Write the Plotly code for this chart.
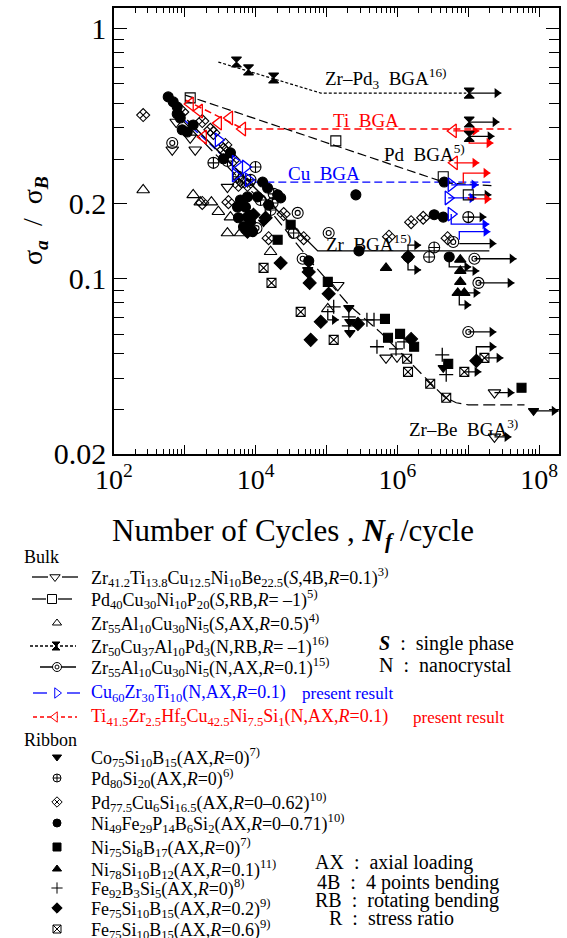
import numpy as np
import plotly.graph_objects as go

FONT = "Liberation Serif"

# ---------------- data (N = cycles, s = sigma_a / sigma_B) ----------------
# Bulk
zrbe_N = [755, 1190, 664, 1400, 3990, 144000, 690000, 986000, 2.34e7, 2.34e7]
zrbe_s = [0.422, 0.365, 0.327, 0.327, 0.232, 0.094, 0.0482, 0.0487, 0.035, 0.0233]
zrbe_line_N = [861, 14700, 65900, 206000, 586000, 2.71e6, 4.57e6, 6.76e6, 1.0e7, 6.21e7]
zrbe_line_s = [0.438, 0.192, 0.1134, 0.0785, 0.0607, 0.0394, 0.0337, 0.0319, 0.0313, 0.0313]

pd40_N = [1190, 135000, 4.43e6, 1.0e7]
pd40_s = [0.527, 0.355, 0.255, 0.216]
pd40_line_N = [1010, 4.88e6, 2.12e7]
pd40_line_s = [0.541, 0.241, 0.235]

zr55s_N = [258, 1310, 1650, 2370, 2970, 4400, 3990, 6090, 16200, 104000]
zr55s_s = [0.226, 0.216, 0.202, 0.202, 0.185, 0.176, 0.152, 0.152, 0.128, 0.0757]

zrpd_N = [5350, 7910, 17900, 1.03e7, 1.03e7, 1.03e7]
zrpd_s = [0.733, 0.682, 0.633, 0.551, 0.422, 0.370]
zrpd_line_N = [2970, 82800, 9.37e6]
zrpd_line_s = [0.733, 0.551, 0.551]

zr55n_N = [664, 10250, 39100, 107000, 46000, 6.13e6, 1.22e7, 1.39e7, 1.0e7]
zr55n_s = [0.348, 0.159, 0.183, 0.152, 0.120, 0.140, 0.120, 0.0961, 0.0612]
zr55n_line_N = [1080, 75000, 1.98e7]
zr55n_line_s = [0.430, 0.129, 0.129]

cu_N = [2970, 5180, 7170, 5180, 7910, 5.74e6, 5.21e6, 5.74e6]
cu_s = [0.358, 0.292, 0.279, 0.259, 0.248, 0.237, 0.210, 0.181]
cu_line_N = [948, 8440, 2.12e7]
cu_line_s = [0.434, 0.243, 0.243]

ti_N = [1190, 1600, 2970, 4260, 6500, 1820, 6.13e6, 6.34e6]
ti_s = [0.498, 0.467, 0.418, 0.438, 0.396, 0.368, 0.389, 0.290]
ti_line_N = [1010, 6720, 4.06e7]
ti_line_s = [0.517, 0.396, 0.396]

# Ribbons
co75_N = [8440, 12900, 54200, 206000, 213000, 213000, 4.43e6, 8.33e7]
co75_s = [0.183, 0.168, 0.1083, 0.0764, 0.0672, 0.0607, 0.0440, 0.0296]

pd80_N = [2530, 3990, 5710, 9930, 8440, 17900, 17300, 16200, 11700, 34300, 3.30e6, 2.80e6, 1.0e7]
pd80_s = [0.290, 0.295, 0.255, 0.279, 0.248, 0.218, 0.2005, 0.188, 0.206, 0.152, 0.133, 0.122, 0.176]

pd775_N = [258, 918, 1760, 2290, 2530, 3730, 3500, 4850, 6090, 5710, 7650, 4120, 1760,
           24800, 15200, 47500, 760000, 1.56e6, 2.31e6, 5.1e6]
pd775_s = [0.450, 0.463, 0.426, 0.393, 0.382, 0.342, 0.327, 0.298, 0.248, 0.237, 0.237, 0.202, 0.2005,
           0.181, 0.145, 0.145, 0.147, 0.168, 0.175, 0.145]

ni49_N = [582, 685, 780, 780, 861, 918, 1080, 1310, 3500, 4400, 12500, 14700, 10600, 7650, 6090,
          5710, 7650, 6720, 5530, 7170, 8440, 9020, 15200, 20400, 22500, 56000, 259000, 286000,
          1.41e6, 3.30e6, 4.43e6, 4.57e6, 5.38e6]
ni49_s = [0.532, 0.508, 0.485, 0.455, 0.438, 0.393, 0.385, 0.411, 0.301, 0.318, 0.243, 0.230, 0.212,
          0.212, 0.206, 0.175, 0.176, 0.161, 0.193, 0.193, 0.168, 0.154, 0.197, 0.216, 0.210, 0.1177,
          0.216, 0.129, 0.122, 0.180, 0.176, 0.243, 0.122]

ni75_N = [31100, 20400, 104000, 667000, 736000, 1.09e6, 1.72e6, 5.21e6, 5.64e7]
ni75_s = [0.164, 0.143, 0.097, 0.0690, 0.0580, 0.0601, 0.0534, 0.0456, 0.0366]

ni78_N = [690000, 7.71e6, 7.71e6, 7.71e6, 7.1e6, 8.78e6]
ni78_s = [0.1103, 0.119, 0.1073, 0.0970, 0.0877, 0.0877]

fe92_N = [126000, 206000, 206000, 371000, 467000, 514000, 955000, 1.24e6, 4.29e6, 4.88e6]
fe92_s = [0.0771, 0.0703, 0.0647, 0.0684, 0.0684, 0.0534, 0.0524, 0.0559, 0.0496, 0.0413]

fe75a_N = [7650, 9300, 13800, 22500, 56000, 57800, 107000, 82800, 59700, 277000, 1.56e6, 1.41e6, 1.30e7]
fe75a_s = [0.154, 0.180, 0.175, 0.1155, 0.1063, 0.0961, 0.0869, 0.0672, 0.0569, 0.0659, 0.0574, 0.122, 0.0469]

fe75b_N = [12900, 16700, 43100, 126000, 1.37e6, 1.41e6, 2.90e6, 4.88e6, 8.78e6, 1.69e7]
fe75b_s = [0.1103, 0.0961, 0.0736, 0.0569, 0.0478, 0.0424, 0.0380, 0.0334, 0.0424, 0.0482]

# Run-out arrows: start (N0, s0), bend level sb, end N1
arrow_k_N0 = [1.03e7, 1.03e7, 1.03e7, 1.0e7, 1.0e7, 7.46e6, 1.22e7, 1.39e7, 1.0e7, 1.41e6, 1.41e6,
              5.38e6, 7.71e6, 8.78e6, 7.46e6, 8.78e6, 1.69e7, 1.30e7, 2.34e7, 8.33e7, 2.34e7, 104000]
arrow_k_s0 = [0.551, 0.422, 0.370, 0.216, 0.176, 0.138, 0.120, 0.0961, 0.0612, 0.122, 0.122,
              0.122, 0.1073, 0.0877, 0.0877, 0.0424, 0.0482, 0.0469, 0.035, 0.0296, 0.0233, 0.0757]
arrow_k_sb = [0.551, 0.422, 0.370, 0.216, 0.176, 0.138, 0.120, 0.0961, 0.0612, 0.136, 0.1083,
              0.1113, 0.1073, 0.0877, 0.0785, 0.0424, 0.0482, 0.0534, 0.035, 0.0296, 0.0233, 0.0684]
arrow_k_N1 = [2.93e7, 2.75e7, 2.34e7, 2.12e7, 1.80e7, 2.49e7, 4.79e7, 4.48e7, 2.49e7, 2.16e6, 2.16e6,
              1.10e7, 1.43e7, 1.48e7, 1.10e7, 1.53e7, 3.13e7, 2.49e7, 4.48e7, 1.88e8, 4.06e7, 149000]

arrow_b_N0 = [5.74e6, 5.21e6, 5.74e6, 7.46e6]
arrow_b_s0 = [0.237, 0.210, 0.181, 0.143]
arrow_b_sb = [0.237, 0.210, 0.165, 0.154]
arrow_b_N1 = [1.39e7, 1.30e7, 1.98e7, 2.05e7]

arrow_r_N0 = [6.13e6, 1.03e7, 6.34e6, 8.50e6, 1.0e7]
arrow_r_s0 = [0.389, 0.361, 0.290, 0.241, 0.212]
arrow_r_sb = [0.389, 0.348, 0.290, 0.264, 0.208]
arrow_r_N1 = [1.43e7, 2.26e7, 1.43e7, 2.05e7, 2.12e7]

# in-plot labels
plot_labels = [
    ("Zr–Pd<sub>3</sub>  BGA<sup>16)</sup>", 88000, 0.633, "black"),
    ("Ti  BGA", 115000, 0.430, "red"),
    ("Pd  BGA<sup>5)</sup>", 600000, 0.318, "black"),
    ("Cu  BGA", 27000, 0.264, "blue"),
    ("Zr  BGA<sup>15)</sup>", 92000, 0.139, "black"),
    ("Zr–Be  BGA<sup>3)</sup>", 1.36e6, 0.0253, "black"),
]

x_major = [1e2, 1e3, 1e4, 1e5, 1e6, 1e7, 1e8]
x_major_text = ["10<sup>2</sup>", "", "10<sup>4</sup>", "", "10<sup>6</sup>", "", "10<sup>8</sup>"]
y_major = [0.02, 0.1, 0.2, 1.0]
y_major_text = ["0.02", "0.1", "0.2", "1"]

# ---------------- figure ----------------
fig = go.Figure()
W, H = 567, 938


def add_line(N, s, color, dash, width=1.3):
    fig.add_trace(go.Scatter(x=N, y=s, mode="lines", line=dict(color=color, dash=dash, width=width),
                             hoverinfo="skip"))


def add_pts(N, s, symbol, color, size=10, fill=None, lw=1.1):
    fig.add_trace(go.Scatter(x=N, y=s, mode="markers",
                             marker=dict(symbol=symbol, size=size, color=fill or color,
                                         line=dict(color=color, width=lw)), hoverinfo="skip"))


def add_arrows(N0, s0, sb, N1, color):
    xs, ys = [], []
    for a, b, c, d in zip(N0, s0, sb, N1):
        xs += [a, a, d, None]
        ys += [b, c, c, None]
    fig.add_trace(go.Scatter(x=xs, y=ys, mode="lines", line=dict(color=color, width=1.3), hoverinfo="skip"))
    hx = [10 ** (np.log10(d) - 4.5 / 70.6) for d in N1]
    fig.add_trace(go.Scatter(x=hx, y=sb, mode="markers",
                             marker=dict(symbol="triangle-right", size=9, color=color,
                                         line=dict(width=0)), hoverinfo="skip"))


# fitted curves
add_line(zrpd_line_N, zrpd_line_s, "black", "3px,2px", 1.2)
add_line(ti_line_N, ti_line_s, "red", "7px,4px", 1.5)
add_line(pd40_line_N, pd40_line_s, "black", "9px,4px", 1.2)
add_line(cu_line_N, cu_line_s, "blue", "8px,4px", 1.3)
add_line(zr55n_line_N, zr55n_line_s, "black", "solid", 1.3)
add_line(zrbe_line_N, zrbe_line_s, "black", "12px,5px", 1.2)

# arrows
add_arrows(arrow_k_N0, arrow_k_s0, arrow_k_sb, arrow_k_N1, "black")
add_arrows(arrow_b_N0, arrow_b_s0, arrow_b_sb, arrow_b_N1, "blue")
add_arrows(arrow_r_N0, arrow_r_s0, arrow_r_sb, arrow_r_N1, "red")

# markers
add_pts(fe75b_N, fe75b_s, "square-x-open", "black", 9)
add_pts(fe75a_N, fe75a_s, "diamond", "black", 10)
add_pts(fe92_N, fe92_s, "cross-thin-open", "black", 10, lw=1.3)
add_pts(ni78_N, ni78_s, "triangle-up", "black", 10)
add_pts(ni75_N, ni75_s, "square", "black", 9)
add_pts(ni49_N, ni49_s, "circle", "black", 10)
add_pts(pd775_N, pd775_s, "diamond-x-open", "black", 10)
add_pts(pd80_N, pd80_s, "circle-cross-open", "black", 11)
add_pts(co75_N, co75_s, "triangle-down", "black", 9)
add_pts(zr55s_N, zr55s_s, "triangle-up-open", "black", 11)
add_pts(zrbe_N, zrbe_s, "triangle-down-open", "black", 11)
add_pts(pd40_N, pd40_s, "square-open", "black", 10)
add_pts(zrpd_N, zrpd_s, "hourglass", "black", 10)
add_pts(zr55n_N, zr55n_s, "circle-open", "black", 11)
add_pts(zr55n_N, zr55n_s, "circle-open", "black", 5)
add_pts(cu_N, cu_s, "triangle-right-open", "blue", 12, lw=1.3)
add_pts(ti_N, ti_s, "triangle-left-open", "red", 12, lw=1.3)

annotations = []
for text, n, s, col in plot_labels:
    annotations.append(dict(x=np.log10(n), y=np.log10(s), xref="x", yref="y", text=text,
                            showarrow=False, xanchor="left", yanchor="middle",
                            font=dict(family=FONT, size=19, color=col)))

# ---------------- legend (drawn on a hidden second axis in pixel units) ----------------
LX = "x2"
LY = "y2"


def leg_segs(y, segs, color, dash="solid"):
    xs, ys = [], []
    for a, b in segs:
        xs += [a, b, None]
        ys += [y, y, None]
    fig.add_trace(go.Scatter(x=xs, y=ys, mode="lines", xaxis=LX, yaxis=LY,
                             line=dict(color=color, dash=dash, width=1.3), hoverinfo="skip"))


def leg_marker(y, symbol, color, x_sym=56, size=8, fill=None, lw=1.0):
    fig.add_trace(go.Scatter(x=[x_sym], y=[y], mode="markers", xaxis=LX, yaxis=LY,
                             marker=dict(symbol=symbol, size=size, color=fill or color,
                                         line=dict(color=color, width=lw)), hoverinfo="skip"))


def leg_text(x, y, text, color="black", size=18):
    annotations.append(dict(x=x, y=y, xref=LX, yref=LY, text=text, showarrow=False,
                            xanchor="left", yanchor="middle",
                            font=dict(family=FONT, size=size, color=color)))


leg_text(22, 557, "Bulk", size=18)
bulk_rows = [
    (577, "Zr<sub>41.2</sub>Ti<sub>13.8</sub>Cu<sub>12.5</sub>Ni<sub>10</sub>Be<sub>22.5</sub>(<i>S</i>,4B,<i>R</i>=0.1)<sup>3)</sup>", "black"),
    (599, "Pd<sub>40</sub>Cu<sub>30</sub>Ni<sub>10</sub>P<sub>20</sub>(<i>S</i>,RB,<i>R</i>= –1)<sup>5)</sup>", "black"),
    (623, "Zr<sub>55</sub>Al<sub>10</sub>Cu<sub>30</sub>Ni<sub>5</sub>(<i>S</i>,AX,<i>R</i>=0.5)<sup>4)</sup>", "black"),
    (646, "Zr<sub>50</sub>Cu<sub>37</sub>Al<sub>10</sub>Pd<sub>3</sub>(N,RB,<i>R</i>= –1)<sup>16)</sup>", "black"),
    (667, "Zr<sub>55</sub>Al<sub>10</sub>Cu<sub>30</sub>Ni<sub>5</sub>(N,AX,<i>R</i>=0.1)<sup>15)</sup>", "black"),
    (693, "Cu<sub>60</sub>Zr<sub>30</sub>Ti<sub>10</sub>(N,AX,<i>R</i>=0.1)", "blue"),
    (717, "Ti<sub>41.5</sub>Zr<sub>2.5</sub>Hf<sub>5</sub>Cu<sub>42.5</sub>Ni<sub>7.5</sub>Si<sub>1</sub>(N,AX,<i>R</i>=0.1)", "red"),
]
for y, t, c in bulk_rows:
    leg_text(89, y, t, c)
leg_text(300, 693, "present result", "blue", 17)
leg_text(411, 717, "present result", "red", 17)

leg_segs(577, [(32, 48), (62, 78)], "black")
leg_marker(577, "triangle-down", "black", 55, size=9, fill="white")
leg_segs(599, [(32, 46), (58, 72)], "black")
leg_marker(599, "square", "black", 52, size=9, fill="white")
leg_marker(623, "triangle-up-open", "black", 57)
leg_segs(646, [(30, 76)], "black", "3px,2px")
leg_marker(646, "hourglass", "black", 56)
leg_segs(667, [(40, 76)], "black")
leg_marker(667, "circle", "black", 57, size=9, fill="white")
leg_marker(667, "circle-open", "black", 57, size=4)
leg_segs(693, [(33, 47), (67, 80)], "blue")
leg_marker(693, "triangle-right", "blue", 57, size=9, fill="white")
leg_segs(717, [(33, 77)], "red", "4px,3px")
leg_marker(717, "triangle-left", "red", 55, size=9, fill="white")

leg_text(377, 643, "<b><i>S</i></b>  :  single phase", size=20)
leg_text(377, 665, "N  :  nanocrystal", size=20)

leg_text(22, 740, "Ribbon", size=18)
ribbon_rows = [
    (757, "triangle-down", "Co<sub>75</sub>Si<sub>10</sub>B<sub>15</sub>(AX,<i>R</i>=0)<sup>7)</sup>"),
    (778, "circle-cross-open", "Pd<sub>80</sub>Si<sub>20</sub>(AX,<i>R</i>=0)<sup>6)</sup>"),
    (802, "diamond-x-open", "Pd<sub>77.5</sub>Cu<sub>6</sub>Si<sub>16.5</sub>(AX,<i>R</i>=0–0.62)<sup>10)</sup>"),
    (823, "circle", "Ni<sub>49</sub>Fe<sub>29</sub>P<sub>14</sub>B<sub>6</sub>Si<sub>2</sub>(AX,<i>R</i>=0–0.71)<sup>10)</sup>"),
    (847, "square", "Ni<sub>75</sub>Si<sub>8</sub>B<sub>17</sub>(AX,<i>R</i>=0)<sup>7)</sup>"),
    (869, "triangle-up", "Ni<sub>78</sub>Si<sub>10</sub>B<sub>12</sub>(AX,<i>R</i>=0.1)<sup>11)</sup>"),
    (888, "cross-thin-open", "Fe<sub>92</sub>B<sub>3</sub>Si<sub>5</sub>(AX,<i>R</i>=0)<sup>8)</sup>"),
    (908, "diamond", "Fe<sub>75</sub>Si<sub>10</sub>B<sub>15</sub>(AX,<i>R</i>=0.2)<sup>9)</sup>"),
    (929, "square-x-open", "Fe<sub>75</sub>Si<sub>10</sub>B<sub>15</sub>(AX,<i>R</i>=0.6)<sup>9)</sup>"),
]
for y, sym, t in ribbon_rows:
    leg_marker(y, sym, "black", 57, size=8, lw=1.0)
    leg_text(89, y, t)

leg_text(313, 862, "AX  :  axial loading", size=20)
leg_text(315, 882, "4B  :  4 points bending", size=20)
leg_text(313, 900, "RB  :  rotating bending", size=20)
leg_text(327, 918, "R  :  stress ratio", size=20)

# axis titles
annotations.append(dict(x=293 / W, y=1 - 533 / H, xref="paper", yref="paper", showarrow=False,
                        text="Number of Cycles , <b><i>N<sub>f</sub></i></b> /cycle",
                        xanchor="center", yanchor="middle", font=dict(family=FONT, size=31)))
annotations.append(dict(x=34 / W, y=1 - 221 / H, xref="paper", yref="paper", showarrow=False,
                        text="σ<sub><b><i>a</i></b></sub>  /  σ<sub><b><i>B</i></b></sub>", textangle=-90,
                        xanchor="center", yanchor="middle", font=dict(family=FONT, size=28)))

x_minor = [m * 10 ** d for d in range(2, 9) for m in range(2, 10)]
y_minor = [0.03, 0.04, 0.05, 0.06, 0.07, 0.08, 0.09, 0.3, 0.4, 0.5, 0.6, 0.7, 0.8, 0.9]

axis_common = dict(showline=True, linecolor="black", linewidth=1.6, mirror="ticks", ticks="inside",
                   showgrid=False, zeroline=False, tickcolor="black", tickwidth=1.3, automargin=False,
                   tickmode="array")

fig.update_layout(
    width=W, height=H, margin=dict(l=0, r=0, t=0, b=0, autoexpand=False),
    paper_bgcolor="white", plot_bgcolor="white", showlegend=False,
    font=dict(family=FONT, color="black"),
    xaxis=dict(type="log", range=[2, 8.28], domain=[114 / W, 559 / W], anchor="y",
               tickvals=x_major, ticktext=x_major_text, ticklen=9,
               tickfont=dict(family=FONT, size=28, color="black"),
               minor=dict(ticks="inside", tickvals=x_minor, ticklen=4.5, tickwidth=1.1, tickcolor="black"),
               **axis_common),
    yaxis=dict(type="log", range=[np.log10(0.02), 0.0799], domain=[1 - 453.5 / H, 1 - 8.3 / H], anchor="x",
               tickvals=y_major, ticktext=y_major_text, ticklen=13,
               tickfont=dict(family=FONT, size=30, color="black"),
               minor=dict(ticks="inside", tickvals=y_minor, ticklen=10, tickwidth=1.1, tickcolor="black"),
               **axis_common),
    xaxis2=dict(domain=[0, 1], range=[0, W], visible=False, anchor="y2", fixedrange=True),
    yaxis2=dict(domain=[0, 0.45], range=[H, H - 0.45 * H], visible=False, anchor="x2", fixedrange=True),
    annotations=annotations,
)

fig.write_html("out.html", config={"displayModeBar": False},
               post_script="document.body.style.margin='0px';")
